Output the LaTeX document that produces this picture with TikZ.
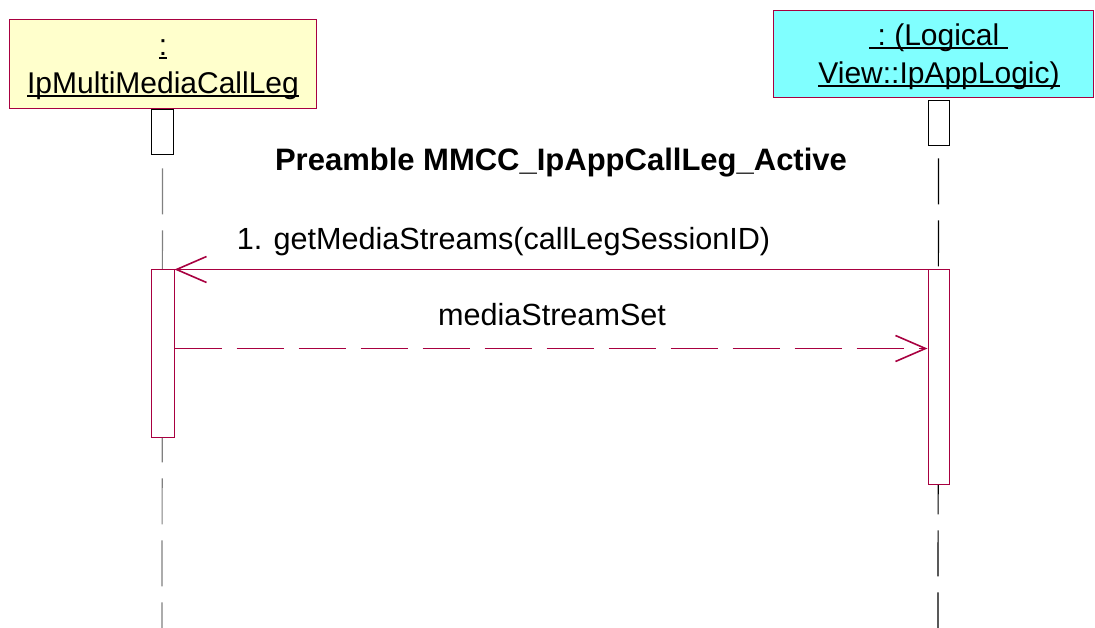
\documentclass[tikz,border=0pt]{standalone}
\usepackage{fontspec}
\setmainfont{Liberation Sans}
\usetikzlibrary{arrows.meta}
\definecolor{edge}{RGB}{168,0,64}
\definecolor{hdrY}{RGB}{255,255,204}
\definecolor{hdrC}{RGB}{128,255,255}
\newcommand\myul[1]{\setbox0\hbox{#1}\rlap{\rule[-3.5pt]{\wd0}{2.6pt}}\box0}
\begin{document}
\begin{tikzpicture}[x=1pt,y=-1pt,
 hdr/.style={draw=edge, line width=1pt, inner sep=0pt},
 hdrtext/.style={anchor=base, inner sep=0pt, font=\fontsize{30}{36}\selectfont},
 act/.style={draw=edge, fill=white, line width=1pt, minimum width=23pt, inner sep=0pt},
 smallbox/.style={draw=black, fill=white, line width=0.8pt, minimum width=22pt, minimum height=45pt, inner sep=0pt},
 life/.style={line width=1.2pt},
 msg/.style={draw=edge, line width=1.2pt, -{Straight Barb[length=30pt,width=26pt,line width=1.6pt]}},
 lbl/.style={anchor=base, inner sep=0pt, font=\fontsize{30.6}{36}\selectfont}]
\useasboundingbox (0,0) rectangle (1095,628);
% headers
\node[hdr, fill=hdrY, minimum width=307pt, minimum height=89pt] (hL) at (162.5,64.5) {};
\node[hdrtext] (hLa) at (163,56) {\myul{:}};
\node[hdrtext] (hLb) at (163,94) {\myul{IpMultiMediaCallLeg}};
\node[hdr, fill=hdrC, minimum width=320pt, minimum height=87pt] (hR) at (933,54.5) {};
\node[hdrtext] (hRa) at (938.5,46) {\myul{\ :\ (Logical\ }};
\node[hdrtext] (hRb) at (939,84) {\myul{View::IpAppLogic)}};
% lifelines
\coordinate (lEnd) at (162,628);
\coordinate (rEnd) at (938,628);
\node[smallbox] (sL) at (162.5,131.5) {};
\node[smallbox, minimum width=21pt] (sR) at (938.5,122.5) {};
\draw[life, draw=gray, dash pattern=on 46pt off 16pt, dash phase=48pt] (sL.south) -- (lEnd);
\draw[life, draw=black, dash pattern=on 46pt off 16pt, dash phase=49pt] (sR.south) -- (rEnd);
% activations
\node[act, minimum height=167pt] (aL) at (162.5,353.5) {};
\node[act, minimum width=21pt, minimum height=214pt] (aR) at (938.5,377) {};
% messages
\coordinate (m1s) at (aR.north west);
\coordinate (m1e) at (aL.north east);
\draw[msg] (m1s) -- (m1e);
\coordinate (m2s) at ([yshift=-79pt]aL.north east);
\coordinate (m2e) at ([yshift=-79pt]aR.north west);
\draw[msg, dash pattern=on 47pt off 15pt] (m2s) -- (m2e);
% labels
\node[lbl] (l1) at (503.5,250) {1. getMediaStreams(callLegSessionID)};
\node[lbl] (l2) at (552,326) {mediaStreamSet};
\node[lbl, font=\fontsize{31}{36}\selectfont\bfseries] (title) at (561,171) {Preamble MMCC\_IpAppCallLeg\_Active};
\end{tikzpicture}
\end{document}
